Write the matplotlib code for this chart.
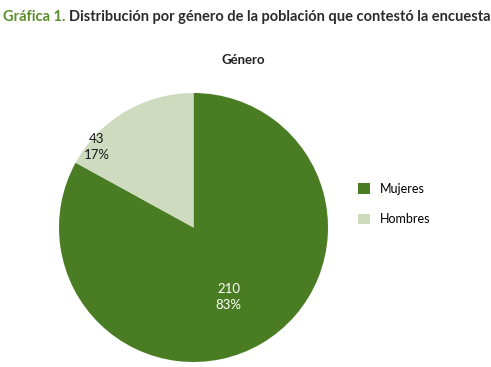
import matplotlib
matplotlib.use("Agg")
import matplotlib.pyplot as plt
from matplotlib.patches import Patch

categorias = ["Mujeres", "Hombres"]
valores = [210, 43]
porcentajes = ["83%", "17%"]
colores = ["#4a7d23", "#cfdbbf"]
color_texto = ["white", "#1a1a1a"]

plt.rcParams['font.family'] = ['Lato', 'DejaVu Sans']

fig = plt.figure(figsize=(4.91, 3.67), dpi=100)

# titulo en dos partes (verde + gris oscuro)
t1 = fig.text(0.006, 0.955, "Gráfica 1.", color="#5b8c2e", fontsize=10.5,
              fontweight="bold", va="center", ha="left")
fig.canvas.draw()
bb = t1.get_window_extent()
x2 = (bb.x1 + 4) / fig.bbox.width
fig.text(x2, 0.955, "Distribución por género de la población que contestó la encuesta",
         color="#2b2b2b", fontsize=10.5, fontweight="bold", va="center", ha="left")

fig.text(243 / 491, 1 - 60 / 367, "Género", fontsize=9.5, fontweight="bold",
         color="#222222", ha="center", va="center")

ax = fig.add_axes([59 / 491, 5 / 367, 269 / 491, 269 / 367])
wedges, _ = ax.pie(valores, colors=colores, startangle=90, counterclock=False,
                   radius=1, wedgeprops=dict(linewidth=0))
ax.set_xlim(-1, 1)
ax.set_ylim(-1, 1)
ax.set_aspect("auto")
ax.axis("off")

# etiquetas dentro de las porciones
pos = [(0.26, -0.52), (-0.72, 0.60)]
for (x, y), v, p, c in zip(pos, valores, porcentajes, color_texto):
    ax.text(x, y, f"{v}\n{p}", ha="center", va="center", color=c,
            fontsize=9.5, linespacing=1.4)

handles = [Patch(facecolor=c, edgecolor="none") for c in colores]
fig.legend(handles, categorias, loc="center left",
           bbox_to_anchor=(347 / 491, 1 - 204 / 367), frameon=False,
           fontsize=9, handlelength=0.9, handleheight=0.9,
           handletextpad=0.8, labelspacing=1.5)

fig.savefig("out.png", dpi=100)
